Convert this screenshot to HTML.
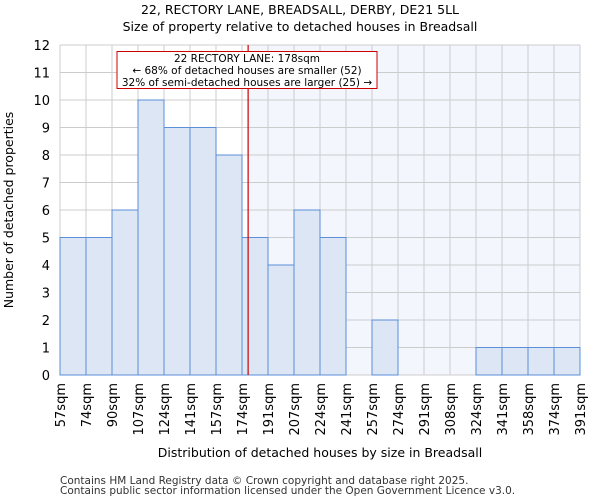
<!DOCTYPE html>
<html><head><meta charset="utf-8"><style>
body{margin:0;background:#fff;font-family:"DejaVu Sans","Liberation Sans",sans-serif}
</style></head><body>
<svg id="c" width="600" height="500" xmlns="http://www.w3.org/2000/svg" font-family="DejaVu Sans, Liberation Sans, sans-serif">
<text x="300" y="14" text-anchor="middle" font-size="12.5">22, RECTORY LANE, BREADSALL, DERBY, DE21 5LL</text>
<text x="300" y="31" text-anchor="middle" font-size="12.5">Size of property relative to detached houses in Breadsall</text>
<g id="plot"></g>
<text x="320" y="457" text-anchor="middle" font-size="12.5">Distribution of detached houses by size in Breadsall</text>
<text transform="translate(13,210) rotate(-90)" text-anchor="middle" font-size="12.5">Number of detached properties</text>
<text x="60" y="484" font-size="10.5" fill="#333">Contains HM Land Registry data © Crown copyright and database right 2025.</text>
<text x="60" y="494" font-size="10.5" fill="#333">Contains public sector information licensed under the Open Government Licence v3.0.</text>
</svg>
<script>
const tickLabels=["57sqm","74sqm","90sqm","107sqm","124sqm","141sqm","157sqm","174sqm","191sqm","207sqm","224sqm","241sqm","257sqm","274sqm","291sqm","308sqm","324sqm","341sqm","358sqm","374sqm","391sqm"];
const counts=[5,5,6,10,9,9,8,5,4,6,5,0,2,0,0,0,1,1,1,1];
const yTicks=[0,1,2,3,4,5,6,7,8,9,10,11,12];
const markerBin=7+4/17;
const NS="http://www.w3.org/2000/svg";
const L=60,R=580,T=45,B=375,yMax=12;
const bw=(R-L)/counts.length;
const x=i=>L+i*bw;
const y=v=>B-v/yMax*(B-T);
const g=document.getElementById('plot');
function mk(t,a){const e=document.createElementNS(NS,t);for(const k in a)e.setAttribute(k,a[k]);g.appendChild(e);return e;}
const mx=x(markerBin);
let e=mk('rect',{x:mx,y:T,width:R-mx,height:B-T,fill:'#f3f6fd'});


yTicks.forEach(v=>{
 let l=mk('line',{x1:L,x2:R,y1:y(v),y2:y(v),stroke:'#ccc','stroke-width':1});
 
 
 let t=mk('text',{x:L-10,y:y(v)+5,'text-anchor':'end','font-size':13});
 t.textContent=v;
 
 
});
tickLabels.forEach((s,i)=>{
 let l=mk('line',{x1:x(i),x2:x(i),y1:T,y2:B,stroke:'#ccc','stroke-width':1});
 
 
 let t=mk('text',{transform:`translate(${x(i)+5},${B+8}) rotate(-90)`,'text-anchor':'end','font-size':13});
 t.textContent=s;
 
 
});
counts.forEach((v,i)=>{
 if(v<=0)return;
 let r=mk('rect',{x:x(i),y:y(v),width:bw,height:B-y(v),fill:'#dce6f4',stroke:'#5b8fd8','stroke-width':1});
 
 
});
e=mk('line',{x1:mx,x2:mx,y1:T,y2:B,stroke:'#cc0000','stroke-width':1.2});


e=mk('rect',{x:117,y:51.5,width:260,height:37,fill:'#fff',stroke:'#cc0000','stroke-width':1});


["22 RECTORY LANE: 178sqm","← 68% of detached houses are smaller (52)","32% of semi-detached houses are larger (25) →"].forEach((s,k)=>{
 let t=mk('text',{x:247,y:62+k*12,'text-anchor':'middle','font-size':10.5});
 t.textContent=s;
 
 
});
</script>
</body></html>
